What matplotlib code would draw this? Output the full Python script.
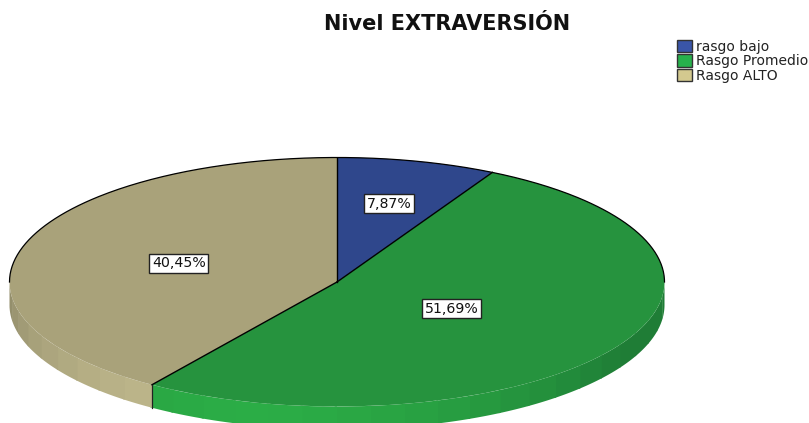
import numpy as np
import matplotlib
matplotlib.use("Agg")
import matplotlib.pyplot as plt
from matplotlib.patches import Patch

categories = ["rasgo bajo", "Rasgo Promedio", "Rasgo ALTO"]
percentages = [7.87, 51.69, 40.45]
value_labels = ["7,87%", "51,69%", "40,45%"]
title = "Nivel EXTRAVERSIÓN"

top_colors = ["#2f478c", "#26933e", "#a9a27a"]
legend_colors = ["#3a55a8", "#27b14c", "#d3c98f"]
side_bright = [None, "#2bad46", "#bcb58a"]
side_dark = [None, "#1f7d36", "#8f8a68"]
label_radii = [0.65, 0.41, 0.506]

W, H = 809, 423
CX, CY, RX, RY, DEPTH = 337, 282, 327.5, 124.5, 23
D = DEPTH / RY

plt.rcParams["font.family"] = ["DejaVu Sans"]
fig = plt.figure(figsize=(W / 100, H / 100), dpi=100)
ax = fig.add_axes([0, 0, 1, 1])

wedges, _ = ax.pie(percentages, colors=top_colors, startangle=90, counterclock=False,
                   radius=1, center=(0, 0), normalize=True,
                   wedgeprops=dict(linewidth=0, zorder=3), frame=True)
ax.set_aspect("auto")
ax.set_xlim(-CX / RX, (W - CX) / RX)
ax.set_ylim((CY - H) / RY, CY / RY)
ax.axis("off")


def mix(c1, c2, t):
    a, b = np.array(matplotlib.colors.to_rgb(c1)), np.array(matplotlib.colors.to_rgb(c2))
    return a + (b - a) * t


fracs = np.array(percentages) / sum(percentages)
edges = np.concatenate([[0], np.cumsum(fracs)]) * 360  # clockwise from top

# extruded side wall, in flat shaded facets
for i in range(3):
    if side_bright[i] is None:
        continue
    start, stop = max(edges[i], 90), min(edges[i + 1], 270)
    if stop <= start:
        continue
    bounds = np.arange(start, stop + 0.01, 6.0)
    bounds = np.append(bounds, stop) if bounds[-1] < stop else bounds
    for a0, a1 in zip(bounds[:-1], bounds[1:]):
        th = np.radians(np.linspace(a0, a1 + 0.4, 12))
        x, y = np.sin(th), np.cos(th)
        mid = (a0 + a1) / 2
        t = min(abs(mid - 195) / 75, 1) if i == 1 else min(abs(mid - 212) / 58, 1)
        col = mix(side_bright[i], side_dark[i], t ** 1.5)
        ax.fill(np.r_[x, x[::-1]], np.r_[y, y[::-1] - D], color=col, lw=0, zorder=2)

# outlines
th = np.radians(np.linspace(-90, 90, 300))
ax.plot(np.sin(th), np.cos(th), color="black", lw=0.9, zorder=4)
for a in edges[:-1]:
    r = np.radians(a)
    ax.plot([0, np.sin(r)], [0, np.cos(r)], color="black", lw=1.0, zorder=4)
r = np.radians(edges[2])
ax.plot([np.sin(r)] * 2, [np.cos(r), np.cos(r) - D], color="#222222", lw=0.9, zorder=4)

# value labels
for i, lab in enumerate(value_labels):
    m = np.radians((edges[i] + edges[i + 1]) / 2)
    ax.text(label_radii[i] * np.sin(m), label_radii[i] * np.cos(m), lab, fontsize=10.2,
            ha="center", va="center", color="#111111", zorder=6,
            bbox=dict(boxstyle="square,pad=0.2", fc="white", ec="#222222", lw=1.0))

fig.text(447.5 / W, 1 - 24 / H, title, fontsize=15, fontweight="bold",
         ha="center", va="center", color="#111111")

handles = [Patch(fc=c, ec="#333333", lw=1.0) for c in legend_colors]
fig.legend(handles, categories, loc="upper left", bbox_to_anchor=(676.5 / W, 1 - 39.5 / H),
           frameon=False, fontsize=10, borderpad=0, borderaxespad=0, handlelength=1.1,
           handleheight=1.0, handletextpad=0.3, labelspacing=0.05, labelcolor="#222222")

fig.savefig("out.png", dpi=100)
